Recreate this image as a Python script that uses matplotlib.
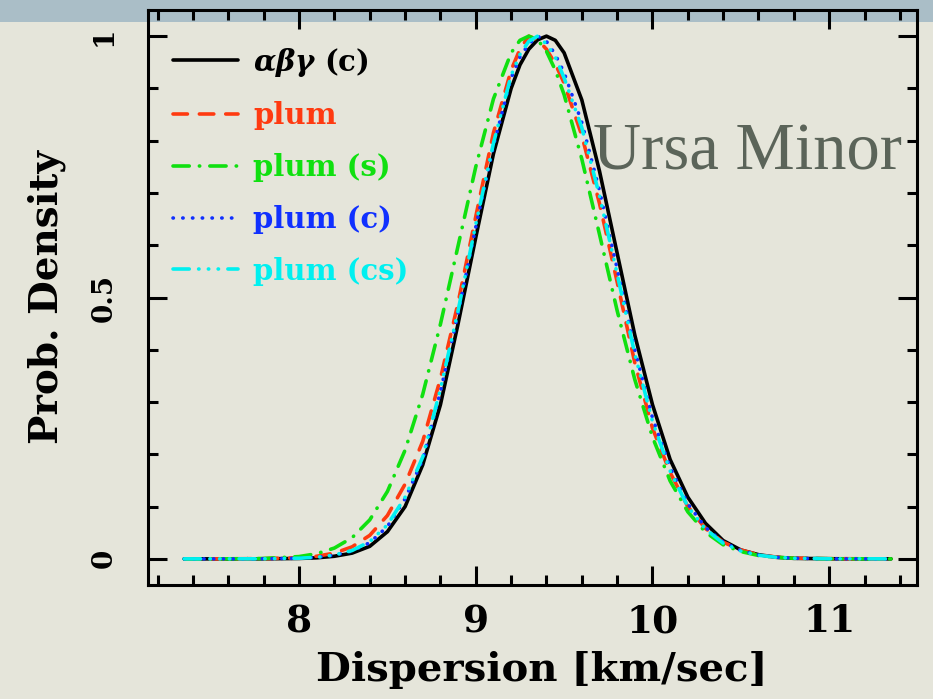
import matplotlib
matplotlib.use("Agg")
import matplotlib.pyplot as plt
from matplotlib.patches import Rectangle
from matplotlib.ticker import MultipleLocator, FixedLocator

# velocity dispersion grid [km/s]
disp = [7.35, 7.6, 7.8, 8.0, 8.1, 8.2, 8.3, 8.4, 8.5, 8.6, 8.7, 8.8, 8.9,
        9.0, 9.1, 9.2, 9.25, 9.3, 9.35, 9.4, 9.45, 9.5, 9.6, 9.7, 9.8, 9.9,
        10.0, 10.1, 10.2, 10.3, 10.4, 10.5, 10.6, 10.7, 10.8, 11.0, 11.35]

# normalised probability densities
abg_c = [0, 0, 0.0001, 0.0008, 0.002, 0.005, 0.011, 0.024, 0.052, 0.100,
         0.180, 0.295, 0.450, 0.615, 0.775, 0.900, 0.945, 0.975, 0.993, 1.0,
         0.992, 0.968, 0.878, 0.742, 0.585, 0.428, 0.295, 0.190, 0.118,
         0.068, 0.035, 0.017, 0.008, 0.003, 0.001, 0.0002, 0]
plum = [0, 0.0001, 0.0005, 0.002, 0.005, 0.011, 0.023, 0.045, 0.083, 0.143,
        0.225, 0.345, 0.490, 0.655, 0.815, 0.935, 0.975, 1.0, 0.993, 0.975,
        0.947, 0.910, 0.810, 0.680, 0.530, 0.375, 0.250, 0.165, 0.100,
        0.058, 0.032, 0.017, 0.008, 0.0035, 0.0015, 0.0003, 0]
plum_s = [0, 0.0001, 0.0007, 0.0044, 0.0099, 0.0207, 0.0405, 0.0746, 0.129,
          0.208, 0.315, 0.449, 0.599, 0.750, 0.880, 0.968, 0.992, 1.0, 0.993,
          0.971, 0.935, 0.888, 0.765, 0.621, 0.475, 0.343, 0.233, 0.149,
          0.090, 0.051, 0.027, 0.014, 0.0065, 0.003, 0.0012, 0.0002, 0]
plum_c = [0, 0, 0.0002, 0.0012, 0.003, 0.007, 0.015, 0.031, 0.062, 0.115,
          0.190, 0.320, 0.470, 0.635, 0.790, 0.920, 0.960, 0.985, 1.0, 0.990,
          0.965, 0.930, 0.835, 0.705, 0.555, 0.400, 0.270, 0.175, 0.105,
          0.060, 0.032, 0.016, 0.0075, 0.003, 0.0012, 0.0002, 0]
plum_cs = [0, 0, 0.0002, 0.0012, 0.003, 0.0075, 0.016, 0.033, 0.065, 0.118,
           0.195, 0.325, 0.475, 0.640, 0.795, 0.925, 0.965, 0.990, 1.0, 0.985,
           0.960, 0.920, 0.825, 0.695, 0.545, 0.392, 0.263, 0.168, 0.100,
           0.057, 0.030, 0.015, 0.007, 0.003, 0.0012, 0.0002, 0]

labels = [r"$\boldsymbol{\alpha\beta\gamma}$ (c)", "plum", "plum (s)", "plum (c)", "plum (cs)"]
x_ticks = [8, 9, 10, 11]
y_ticks = [0, 0.5, 1]
y_tick_labels = ["0", "0.5", "1"]

plt.rcParams["font.family"] = ["DejaVu Serif"]
plt.rcParams["font.weight"] = "bold"
plt.rcParams["mathtext.fontset"] = "dejavuserif"

fig = plt.figure(figsize=(9.33, 6.99), dpi=100)
fig.patch.set_facecolor("#e5e5da")
fig.patches.append(Rectangle((0, 1 - 22 / 699), 1, 22 / 699, transform=fig.transFigure,
                             facecolor="#aabec7", edgecolor="none", zorder=-1))

ax = fig.add_axes([148 / 933, 1 - 585 / 699, 769 / 933, 575 / 699])
ax.set_facecolor("none")

styles = [
    dict(color="black", linestyle="-"),
    dict(color="#ff3a10", dashes=(4, 3.3)),
    dict(color="#10e010", dashes=(4.5, 2.8, 0.1, 2.8)),
    dict(color="#1030ff", dashes=(0.1, 2.6)),
    dict(color="#00f0f0", dashes=(4.5, 2.6, 0.1, 2.6, 0.1, 2.6, 0.1, 2.6)),
]
series = [abg_c, plum, plum_s, plum_c, plum_cs]
for ys, lab, st in zip(series, labels, styles):
    ax.plot(disp, ys, lw=2.6, label=lab, zorder=2, dash_capstyle="round",
            solid_capstyle="round", **st)

ax.set_xlim(7.145, 11.497)
ax.set_ylim(-0.05, 1.05)
ax.xaxis.set_major_locator(FixedLocator(x_ticks))
ax.xaxis.set_minor_locator(MultipleLocator(0.2))
ax.yaxis.set_major_locator(FixedLocator(y_ticks))
ax.yaxis.set_minor_locator(MultipleLocator(0.1))
ax.set_yticklabels(y_tick_labels)

for s in ax.spines.values():
    s.set_linewidth(2.2)
ax.tick_params(which="both", direction="in", top=True, right=True, width=2.2)
ax.tick_params(which="major", length=13.5)
ax.tick_params(which="minor", length=7)
ax.tick_params(axis="x", which="major", labelsize=27, pad=13)
ax.tick_params(axis="y", which="major", labelsize=20, pad=22, labelrotation=90)
for t in ax.get_yticklabels():
    t.set_va("center")

ax.set_xlabel("Dispersion [km/sec]", fontsize=29, fontweight="bold")
ax.xaxis.set_label_coords(0.512, -0.115)
ax.set_ylabel("Prob. Density", fontsize=28, fontweight="bold")
ax.yaxis.set_label_coords(-0.106, 0.5)

leg = ax.legend(loc="upper left", bbox_to_anchor=(0.0325, 0.938), frameon=False,
                borderaxespad=0, borderpad=0, handlelength=2.23, handletextpad=0.51,
                labelspacing=0.78, prop=dict(family="DejaVu Serif", weight="bold", size=21))
for txt, st in zip(leg.get_texts(), styles):
    txt.set_color(st["color"])

ax.text(593 / 933, 1 - 169 / 699, "Ursa Minor", transform=fig.transFigure,
        family="Liberation Serif", fontweight="normal", fontsize=48,
        color="#5b6459", va="baseline", ha="left", zorder=1)

fig.savefig("out.png", dpi=100, facecolor=fig.get_facecolor())
